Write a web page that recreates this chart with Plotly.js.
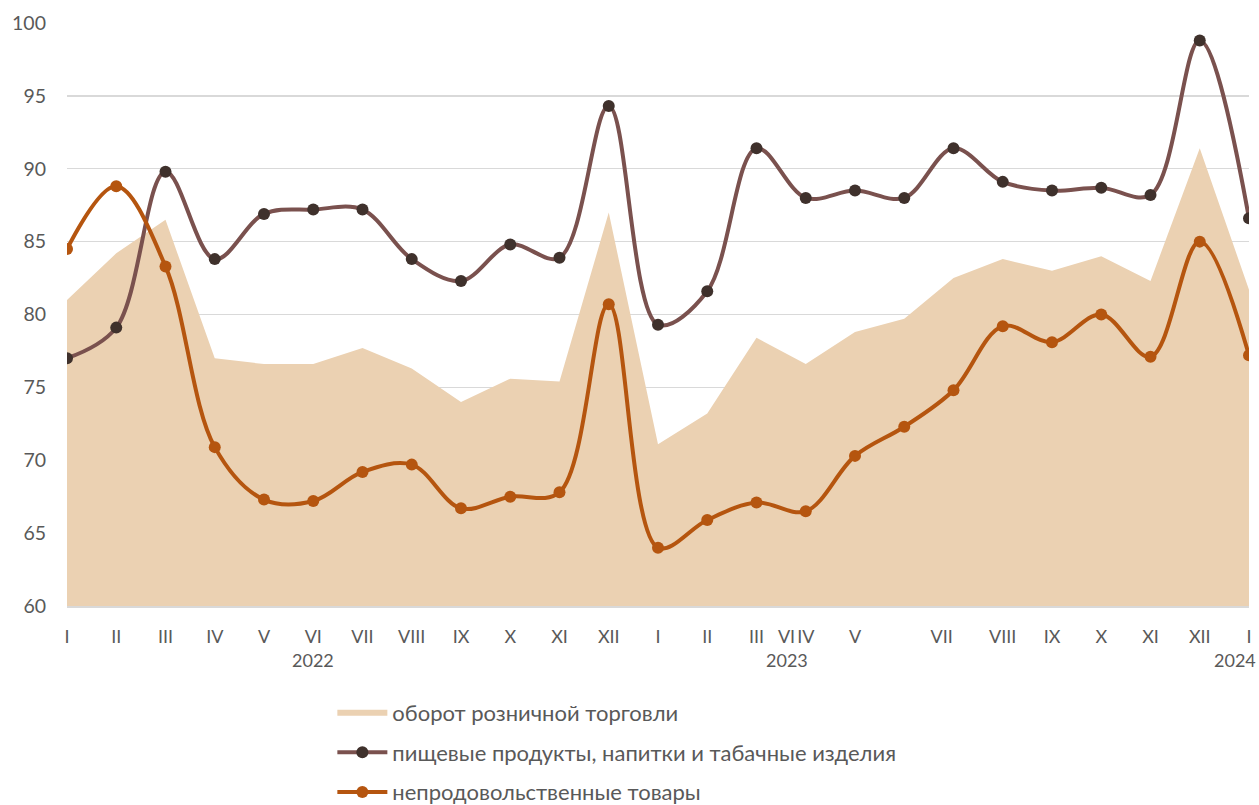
<!DOCTYPE html>
<html>
<head>
<meta charset="utf-8">
<script src="https://cdn.plot.ly/plotly-3.0.1.min.js"></script>
<style>
  html, body { margin: 0; padding: 0; background: #fff; }
  #chart { width: 1259px; height: 805px; }
</style>
</head>
<body>
<div id="chart"></div>
<script>
// ---- data ----
const months = ['I','II','III','IV','V','VI','VII','VIII','IX','X','XI','XII',
                'I','II','III','IV','V','VI','VII','VIII','IX','X','XI','XII','I'];
const years = ['2022', '2023', '2024'];
const seriesNames = ['оборот розничной торговли',
                     'пищевые продукты, напитки и табачные изделия',
                     'непродовольственные товары'];
const retail  = [81.0, 84.2, 86.5, 77.0, 76.6, 76.6, 77.7, 76.3, 74.0, 75.6, 75.4, 87.0,
                 71.1, 73.2, 78.4, 76.6, 78.8, 79.7, 82.5, 83.8, 83.0, 84.0, 82.3, 91.4, 81.7];
const food    = [77.0, 79.1, 89.8, 83.8, 86.9, 87.2, 87.2, 83.8, 82.3, 84.8, 83.9, 94.3,
                 79.3, 81.6, 91.4, 88.0, 88.5, 88.0, 91.4, 89.1, 88.5, 88.7, 88.2, 98.8, 86.6];
const nonfood = [84.5, 88.8, 83.3, 70.9, 67.3, 67.2, 69.2, 69.7, 66.7, 67.5, 67.8, 80.7,
                 64.0, 65.9, 67.1, 66.5, 70.3, 72.3, 74.8, 79.2, 78.1, 80.0, 77.1, 85.0, 77.2];

// ---- build ----
const idx = months.map((m, i) => i);
// tick label placement (layout only): reproduce the shifted labels of the original
const labelShift = {17: -2.39, 18: -0.24};
const tickvals = idx.map(i => i + (labelShift[i] || 0));

const FONT = 'Lato, "Open Sans", "DejaVu Sans", sans-serif';
const TXT = '#595959';

const traces = [
  {
    x: idx, y: retail, name: seriesNames[0], type: 'scatter', mode: 'none',
    fill: 'tozeroy', fillcolor: 'rgb(235,209,178)', legendgroup: 'a'
  },
  {
    x: idx, y: food, name: seriesNames[1], type: 'scatter', mode: 'lines+markers',
    line: {color: '#7A514E', width: 4, shape: 'spline', smoothing: 1},
    marker: {color: '#3F312C', size: 12}, legendgroup: 'b'
  },
  {
    x: idx, y: nonfood, name: seriesNames[2], type: 'scatter', mode: 'lines+markers',
    line: {color: '#B5550F', width: 4, shape: 'spline', smoothing: 1},
    marker: {color: '#B5550F', size: 12}, legendgroup: 'c'
  }
];

const layout = {
  width: 1259, height: 805,
  margin: {l: 67.3, r: 9.7, t: 22.7, b: 199, pad: 0, autoexpand: false},
  paper_bgcolor: '#fff', plot_bgcolor: '#fff',
  font: {family: FONT, color: TXT, size: 17},
  showlegend: true,
  legend: {
    orientation: 'v', x: 0.2245, xanchor: 'left', y: 0.1405, yref: 'container', yanchor: 'top',
    font: {family: FONT, size: 22, color: TXT},
    traceorder: 'grouped', tracegroupgap: 8, itemwidth: 50,
    bgcolor: 'rgba(0,0,0,0)'
  },
  xaxis: {
    range: [0, 24], tickmode: 'array', tickvals: tickvals, ticktext: months,
    showgrid: false, zeroline: false, showline: true, linecolor: '#D9D9D9', linewidth: 1.5,
    ticks: '', ticklabelstandoff: 14, tickfont: {size: 18, color: TXT, family: FONT}
  },
  yaxis: {
    range: [60, 100], tickmode: 'linear', tick0: 60, dtick: 5,
    showgrid: true, gridcolor: '#D9D9D9', gridwidth: 1.3, zeroline: false, showline: false,
    ticks: '', ticklabelstandoff: 20, tickfont: {size: 19.5, color: TXT, family: FONT}
  },
  annotations: [
    {x: 5, y: -0.092, xref: 'x', yref: 'paper', text: years[0], showarrow: false,
     font: {size: 18, color: TXT, family: FONT}, yanchor: 'middle'},
    {x: 14.61, y: -0.092, xref: 'x', yref: 'paper', text: years[1], showarrow: false,
     font: {size: 18, color: TXT, family: FONT}, yanchor: 'middle'},
    {x: 24, y: -0.092, xref: 'x', yref: 'paper', text: years[2], showarrow: false,
     font: {size: 18, color: TXT, family: FONT}, yanchor: 'middle', xanchor: 'right', xshift: 9}
  ]
};

Plotly.newPlot('chart', traces, layout, {staticPlot: true, displayModeBar: false});
</script>
</body>
</html>
